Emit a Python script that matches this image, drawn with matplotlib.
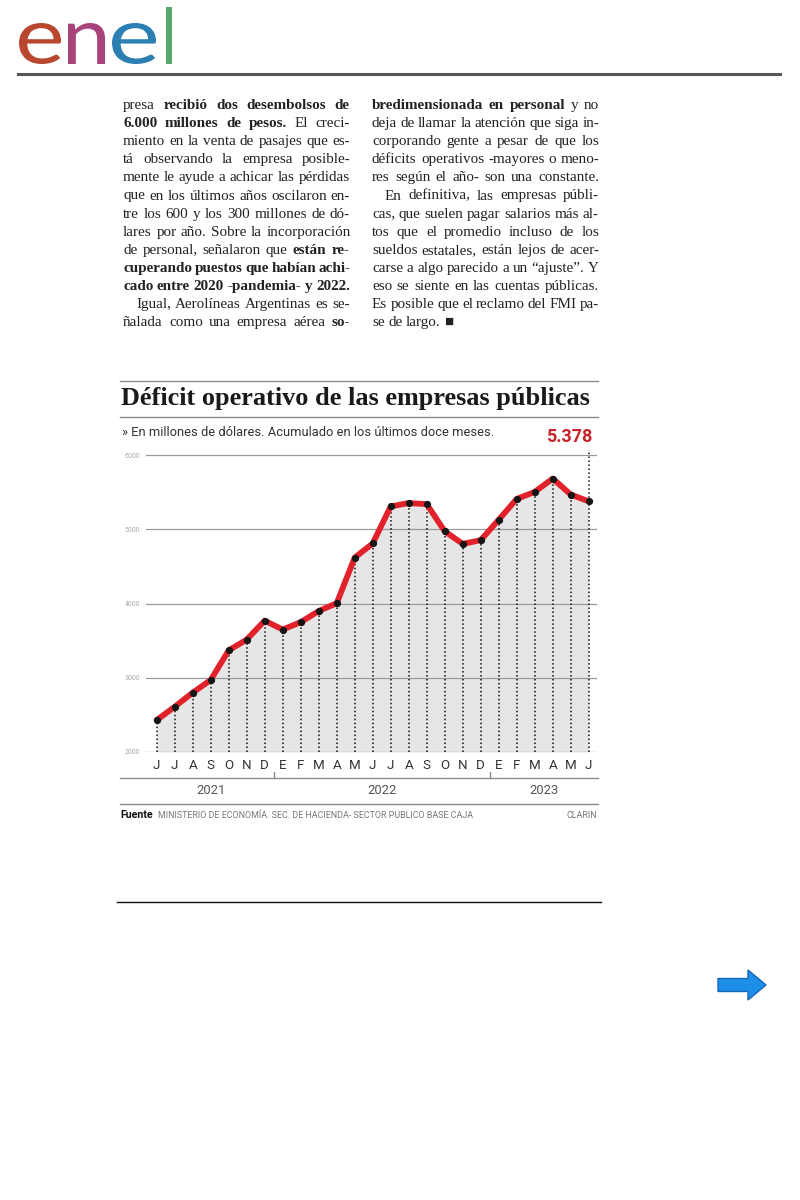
from __future__ import annotations

import matplotlib

matplotlib.use("Agg")
import matplotlib.pyplot as plt
from matplotlib import transforms
from matplotlib.font_manager import FontProperties
from matplotlib.lines import Line2D
from matplotlib.patches import FancyArrow, PathPatch
from matplotlib.textpath import TextPath

WIDTH, HEIGHT = 800, 1200

MONTHS = ["J", "J", "A", "S", "O", "N", "D",
          "E", "F", "M", "A", "M", "J", "J", "A", "S", "O", "N", "D",
          "E", "F", "M", "A", "M", "J"]
DEFICIT = [2430, 2610, 2800, 2970, 3370, 3515, 3770,
           3650, 3750, 3900, 4005, 4620, 4810, 5310, 5355, 5340, 4975, 4805, 4855,
           5130, 5410, 5505, 5685, 5470, 5378]
YEARS = ["2021", "2022", "2023"]
YEAR_FIRST_MONTH = [0, 7, 19]
YEAR_LAST_MONTH = [6, 18, 24]
Y_TICKS = [2000, 3000, 4000, 5000, 6000]
LAST_LABEL = "5.378"

TITLE = "Déficit operativo de las empresas públicas"
SUBTITLE = "» En millones de dólares. Acumulado en los últimos doce meses."
SOURCE_LABEL = "Fuente"
SOURCE = "MINISTERIO DE ECONOMÍA. SEC. DE HACIENDA- SECTOR PUBLICO BASE CAJA"
CREDIT = "CLARIN"

LEFT_COLUMN = [
    [("presa", False), ("recibió dos desembolsos de", True)],
    [("6.000 millones de pesos.", True), ("El creci-", False)],
    [("miento en la venta de pasajes que es-", False)],
    [("tá observando la empresa posible-", False)],
    [("mente le ayude a achicar las pérdidas", False)],
    [("que en los últimos años oscilaron en-", False)],
    [("tre los 600 y los 300 millones de dó-", False)],
    [("lares por año. Sobre la incorporación", False)],
    [("de personal, señalaron que", False), ("están re-", True)],
    [("cuperando puestos que habían achi-", True)],
    [("cado entre 2020 -pandemia- y 2022.", True)],
    [("Igual, Aerolíneas Argentinas es se-", False)],
    [("ñalada como una empresa aérea", False), ("so-", True)],
]
LEFT_INDENTED = [11]

RIGHT_COLUMN = [
    [("bredimensionada en personal", True), ("y no", False)],
    [("deja de llamar la atención que siga in-", False)],
    [("corporando gente a pesar de que los", False)],
    [("déficits operativos -mayores o meno-", False)],
    [("res según el año- son una constante.", False)],
    [("En definitiva, las empresas públi-", False)],
    [("cas, que suelen pagar salarios más al-", False)],
    [("tos que el promedio incluso de los", False)],
    [("sueldos estatales, están lejos de acer-", False)],
    [("carse a algo parecido a un “ajuste”. Y", False)],
    [("eso se siente en las cuentas públicas.", False)],
    [("Es posible que el reclamo del FMI pa-", False)],
    [("se de largo. ■", False)],
]
RIGHT_INDENTED = [5]

LOGO_LETTERS = ["e", "n", "e", "l"]
LOGO_COLORS = ["#b9472f", "#a8437c", "#2b7fb3", "#5aa86a"]
# letter boxes in page pixels: left, right, top, bottom
LOGO_BOXES = [(19, 61, 23, 64), (68, 105, 23, 64), (112, 156, 23, 64), (166, 172, 7, 64)]

SERIF = ["Liberation Serif", "DejaVu Serif"]
SANS = ["Roboto", "DejaVu Sans"]
INK = "#222222"
TEXT_SIZE = 12.4
MIN_GAP = 2.6


def fit_width(text, renderer, width):
    size = text.get_fontsize()
    text.set_fontsize(size * width / text.get_window_extent(renderer).width)


def make_words(fig, renderer, pix, lines):
    rows = []
    for segments in lines:
        words = [(w, bold) for text, bold in segments for w in text.split()]
        artists = [
            fig.text(0, 0, w, transform=pix, family=SERIF, fontsize=TEXT_SIZE,
                     fontweight="bold" if bold else "normal", color=INK, va="baseline")
            for w, bold in words
        ]
        widths = [a.get_window_extent(renderer).width for a in artists]
        rows.append((artists, widths))
    return rows


def column_scale(rows, x0, x1, indented):
    scale = 1.0
    for i, (_, widths) in enumerate(rows):
        start = x0 + (13 if i in indented else 0)
        room = x1 - start - MIN_GAP * (len(widths) - 1)
        scale = min(scale, room / sum(widths))
    return scale


def place_column(rows, scale, x0, x1, y0, step, indented, ragged_last):
    for i, (artists, widths) in enumerate(rows):
        widths = [w * scale for w in widths]
        for a in artists:
            a.set_fontsize(TEXT_SIZE * scale)
        start = x0 + (13 if i in indented else 0)
        if len(widths) > 1 and not (ragged_last and i == len(rows) - 1):
            gap = (x1 - start - sum(widths)) / (len(widths) - 1)
        else:
            gap = 3.5
        x = start
        for artist, width in zip(artists, widths):
            artist.set_position((x, y0 + i * step))
            x += width + gap


def draw_logo(fig, pix):
    prop = FontProperties(family=["Lato", "DejaVu Sans"])
    for letter, color, (left, right, top, bottom) in zip(LOGO_LETTERS, LOGO_COLORS, LOGO_BOXES):
        path = TextPath((0, 0), letter, size=50, prop=prop)
        ext = path.get_extents()
        sx = (right - left) / ext.width
        sy = (bottom - top) / ext.height
        trans = (transforms.Affine2D().translate(-ext.x0, -ext.y0).scale(sx, -sy)
                 .translate(left, bottom) + pix)
        fig.add_artist(PathPatch(path, transform=trans, facecolor=color, lw=0))


def main() -> None:
    fig = plt.figure(figsize=(WIDTH / 100, HEIGHT / 100), dpi=100)
    fig.patch.set_facecolor("white")
    renderer = fig.canvas.get_renderer()
    pix = transforms.Affine2D().scale(1 / WIDTH, -1 / HEIGHT).translate(0, 1) + fig.transFigure

    # header logo
    draw_logo(fig, pix)
    fig.add_artist(Line2D([18, 780], [74, 74], transform=pix, color="#555555", lw=2.2))

    # article text, one font size for both columns
    left_rows = make_words(fig, renderer, pix, LEFT_COLUMN)
    right_rows = make_words(fig, renderer, pix, RIGHT_COLUMN)
    scale = min(column_scale(left_rows, 123, 350, LEFT_INDENTED),
                column_scale(right_rows, 372, 599, RIGHT_INDENTED))
    place_column(left_rows, scale, 123, 350, 109, 18.1, LEFT_INDENTED, False)
    place_column(right_rows, scale, 372, 599, 109, 18.1, RIGHT_INDENTED, True)

    # chart header
    fig.add_artist(Line2D([120, 598], [381, 381], transform=pix, color="#8a8a8a", lw=1))
    fig.add_artist(Line2D([120, 598], [417, 417], transform=pix, color="#8a8a8a", lw=1))
    title = fig.text(121, 398, TITLE, transform=pix, family=SERIF, fontweight="bold",
                     fontsize=18, color="#1a1a1a", va="center")
    fit_width(title, renderer, 467)
    subtitle = fig.text(122, 432, SUBTITLE, transform=pix, family=SANS, fontsize=8,
                        color="#333333", va="center")
    fit_width(subtitle, renderer, 371)
    fig.text(592, 437, LAST_LABEL, transform=pix, family=SANS, fontweight="bold", fontsize=13,
             color="#c8232b", va="center", ha="right")

    # chart
    ax = fig.add_axes([146 / WIDTH, 1 - 752 / HEIGHT, (597 - 146) / WIDTH, (752 - 450) / HEIGHT])
    xs = list(range(len(DEFICIT)))
    ax.set_xlim(-0.594, 24.46)
    ax.set_ylim(2000, 6070)
    ax.fill_between(xs, DEFICIT, 2000, color="#e6e6e6", lw=0, zorder=1)
    ax.set_yticks(Y_TICKS)
    ax.grid(axis="y", color="#9a9a9a", lw=0.9, zorder=2)
    ax.vlines(xs[:-1], 2000, DEFICIT[:-1], color="#111111", lw=1.1,
              linestyles=(0, (1, 1.6)), zorder=3)
    ax.vlines(xs[-1], 2000, 6070, color="#111111", lw=1.1, linestyles=(0, (1, 1.6)), zorder=3)
    ax.plot(xs, DEFICIT, color="#e1222b", lw=4.2, solid_capstyle="round",
            solid_joinstyle="round", zorder=4)
    ax.plot(xs, DEFICIT, "o", color="#151515", ms=4.2, zorder=5)
    ax.set_xticks(xs, MONTHS)
    ax.tick_params(axis="x", length=0, pad=5, labelsize=9.6, labelcolor="#333333")
    ax.tick_params(axis="y", length=0, pad=4, labelsize=5, labelcolor="#aaaaaa")
    for label in ax.get_xticklabels() + ax.get_yticklabels():
        label.set_family(SANS)
    for spine in ax.spines.values():
        spine.set_visible(False)
    ax.set_facecolor("none")

    # year axis below the months
    year_trans = transforms.blended_transform_factory(ax.transData, pix)
    fig.add_artist(Line2D([120, 598], [778, 778], transform=pix, color="#8a8a8a", lw=1))
    for last in YEAR_LAST_MONTH[:-1]:
        fig.add_artist(Line2D([last + 0.5, last + 0.5], [772, 778], transform=year_trans,
                              color="#8a8a8a", lw=1))
    for year, first, last in zip(YEARS, YEAR_FIRST_MONTH, YEAR_LAST_MONTH):
        fig.text((first + last) / 2, 791, year, transform=year_trans, family=SANS,
                 fontsize=9.4, color="#555555", ha="center", va="center")
    fig.add_artist(Line2D([120, 598], [804, 804], transform=pix, color="#8a8a8a", lw=1))

    # footer
    src = fig.text(120, 815, SOURCE_LABEL, transform=pix, family=SANS, fontweight="bold",
                   fontsize=7, color="#111111", va="center")
    fit_width(src, renderer, 33)
    source = fig.text(158, 815, SOURCE, transform=pix, family=SANS, fontsize=6,
                      color="#777777", va="center")
    fit_width(source, renderer, 318)
    credit = fig.text(597, 815, CREDIT, transform=pix, family=SANS, fontsize=6,
                      color="#777777", va="center", ha="right")
    credit.set_fontsize(source.get_fontsize())
    fig.add_artist(Line2D([117, 601], [902, 902], transform=pix, color="#111111", lw=1))

    # navigation arrow
    fig.add_artist(FancyArrow(718, 985, 48, 0, width=13, head_width=30, head_length=18,
                              length_includes_head=True, transform=pix,
                              facecolor="#1e8fe8", edgecolor="#1466b8", lw=1))

    fig.savefig("out.png", dpi=100, facecolor="white")
    plt.close(fig)


if __name__ == "__main__":
    main()
